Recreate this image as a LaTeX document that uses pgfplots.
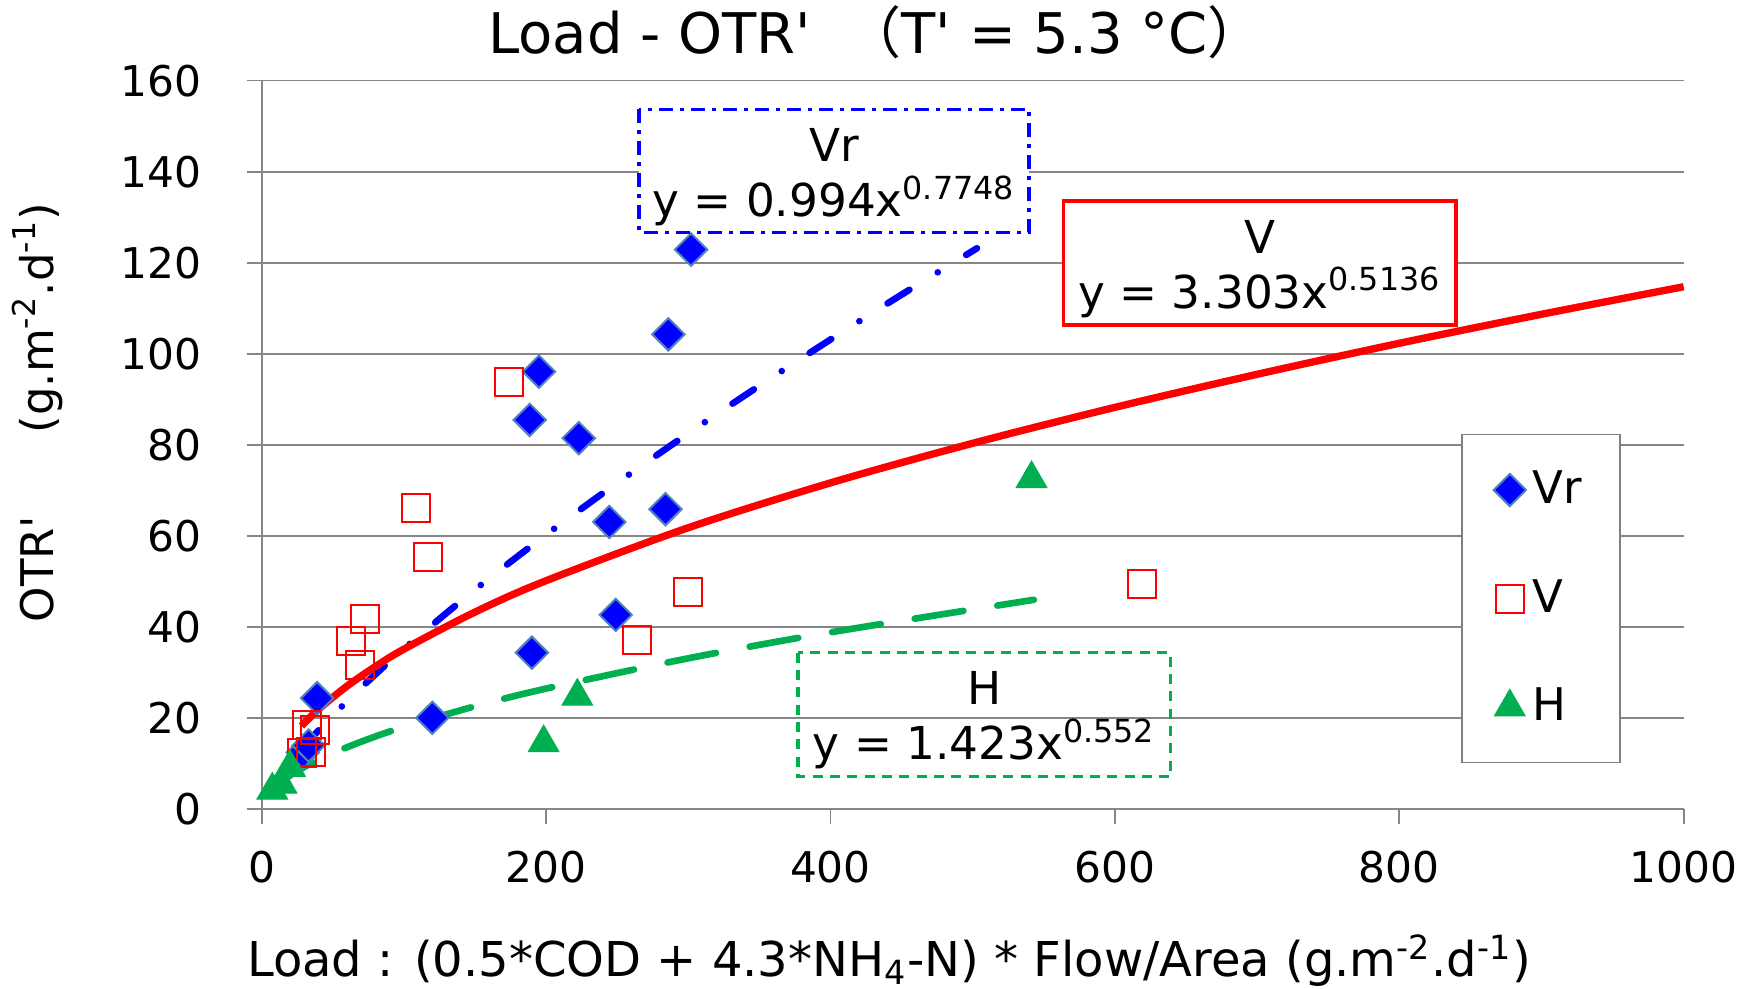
\documentclass[border=0pt]{standalone}
\usepackage{fontspec}
\setmainfont{DejaVu Sans}
\newfontfamily\cjk{Noto Sans CJK JP}
\usepackage{pgfplots}
\pgfplotsset{compat=1.18}

\definecolor{gridgray}{HTML}{868686}
\definecolor{vrblue}{HTML}{0000FF}
\definecolor{vredge}{HTML}{4F81BD}
\definecolor{vred}{HTML}{FF0000}
\definecolor{hgreen}{HTML}{00B050}
\newcommand\q{\textquotesingle}

\begin{document}
\begin{tikzpicture}
\path[use as bounding box] (0,0) rectangle (525.6pt,296.7pt);
\begin{axis}[
  at={(78.5pt,53.9pt)}, anchor=south west,
  scale only axis, width=426.6pt, height=218.6pt,
  xmin=0, xmax=1000, ymin=0, ymax=160,
  xtick={0,200,...,1000}, ytick={0,20,...,160},
  axis x line*=bottom, axis y line*=left,
  axis line style={draw=gridgray, line width=0.5pt, -},
  ymajorgrids, grid style={draw=gridgray, line width=0.5pt},
  tick align=outside, major tick length=4.5pt,
  tick style={draw=gridgray, line width=0.5pt},
  ticklabel style={font=\fontsize{12.7}{15}\selectfont},
  /pgf/number format/assume math mode=true,
  /pgf/number format/1000 sep={},
  yticklabel style={xshift=-10pt},
  xticklabel style={yshift=-4.6pt},
  clip=false,
  legend cell align=left,
  legend image code/.code={\draw[#1] plot coordinates {(0pt,0pt)};},
  legend style={at={(0.8435,0.5156)}, anchor=north west,
    draw=gray, line width=0.5pt, font=\fontsize{13.5}{16}\selectfont,
    row sep=17.2pt, inner xsep=9.5pt, inner ysep=9pt},
]
% measured points
\addplot[only marks, mark=square*, mark size=3.43pt,
  mark options={rotate=45, fill=vrblue, draw=vredge, line width=0.6pt}]
  coordinates {(29,12.5)(33,14)(39,24.4)(120,20.1)(190,34.4)(249,42.7)
    (244.5,63.1)(284,65.9)(223,81.5)(188.5,85.5)(195,96.1)(286,104.3)(302,122.9)};
\addlegendentry{Vr}
\addplot[only marks, mark=square, mark size=4.2pt,
  mark options={draw=vred, line width=0.6pt}]
  coordinates {(28.5,12.3)(34.5,12.6)(32,18.5)(37.5,17.4)(63,37)(68.9,31.7)
    (72.4,41.8)(108.3,66.2)(117.3,55.4)(174.2,93.9)(264,37.2)(300,47.8)(619,49.4)};
\addlegendentry{V}
\addplot[only marks, mark=triangle*, mark size=5.3pt,
  mark options={fill=hgreen, draw=hgreen, line width=0.3pt}]
  coordinates {(7.5,4.2)(14,5.5)(19.9,9.2)(198.3,14.6)(222,24.8)(541.4,72.6)};
\addlegendentry{H}

% power trend lines
\addplot[vrblue, line width=2pt, line cap=round, smooth, forget plot,
  dash pattern=on 7.7pt off 10pt on 0pt off 10pt]
  coordinates {(28,13.14)(40,17.33)(60,23.72)(80,29.64)(100,35.24)(150,48.23)
    (200,60.28)(250,71.66)(300,82.54)(350,93.01)(400,103.15)(450,113.01)(503,123.19)};
\addplot[vred, line width=2.2pt, smooth, forget plot]
  coordinates {(28,18.29)(40,21.97)(60,27.05)(80,31.36)(100,35.17)(150,43.31)
    (200,50.20)(300,61.83)(400,71.68)(500,80.37)(600,88.26)(700,95.52)
    (800,102.33)(900,108.70)(1000,114.75)};
\addplot[hgreen, line width=2pt, line cap=round, smooth, forget plot,
  dash pattern=on 14.8pt off 10.3pt]
  coordinates {(7.5,4.33)(10,5.07)(15,6.35)(20,7.44)(30,9.30)(50,12.33)
    (75,15.43)(100,18.08)(150,22.62)(200,26.51)(300,33.16)(400,38.86)(543,46.01)};
\end{axis}

\begin{scope}[x=0.3pt, y=-0.3pt, yshift=296.7pt]
  \node[anchor=base, font=\fontsize{16.8}{20}\selectfont] at (876,53.6)
    {Load - OTR\q{}\hspace{0.3em} {\cjk （}T\q{} = 5.3 °C{\cjk ）}};
  \node[anchor=base, font=\fontsize{14.4}{17}\selectfont] at (889,977)
    {Load : (0.5*COD + 4.3*NH\textsubscript{4}-N) * Flow/Area (g.m\textsuperscript{-2}.d\textsuperscript{-1})};
  \node[anchor=base, rotate=90, font=\fontsize{13.5}{16}\selectfont] at (53,569) {OTR\q};
  \node[anchor=base, rotate=90, font=\fontsize{13.5}{16}\selectfont] at (53,318)
    {(g.m\textsuperscript{-2}.d\textsuperscript{-1})};

  \begin{scope}[font=\fontsize{13.6}{16}\selectfont]
  \draw[vrblue, line width=1pt, dash pattern=on 4.2pt off 2.1pt on 1.2pt off 2.1pt, fill=white]
    (639,109.5) rectangle (1029,232.4);
  \node[anchor=base] at (834,161.8) {Vr};
  \node[anchor=base] at (834,216.8) {y = 0.994x\textsuperscript{0.7748}};

  \draw[vred, line width=1pt, fill=white] (1063.7,201.1) rectangle (1455.9,325.1);
  \node[anchor=base] at (1259.8,253.4) {V};
  \node[anchor=base] at (1259.8,308.4) {y = 3.303x\textsuperscript{0.5136}};

  \draw[hgreen, line width=1pt, dash pattern=on 3pt off 2.2pt]
    (798,652.7) rectangle (1170.5,776.7);
  \node[anchor=base] at (984.3,705) {H};
  \node[anchor=base] at (984.3,760) {y = 1.423x\textsuperscript{0.552}};
  \end{scope}
\end{scope}
\end{tikzpicture}
\end{document}
